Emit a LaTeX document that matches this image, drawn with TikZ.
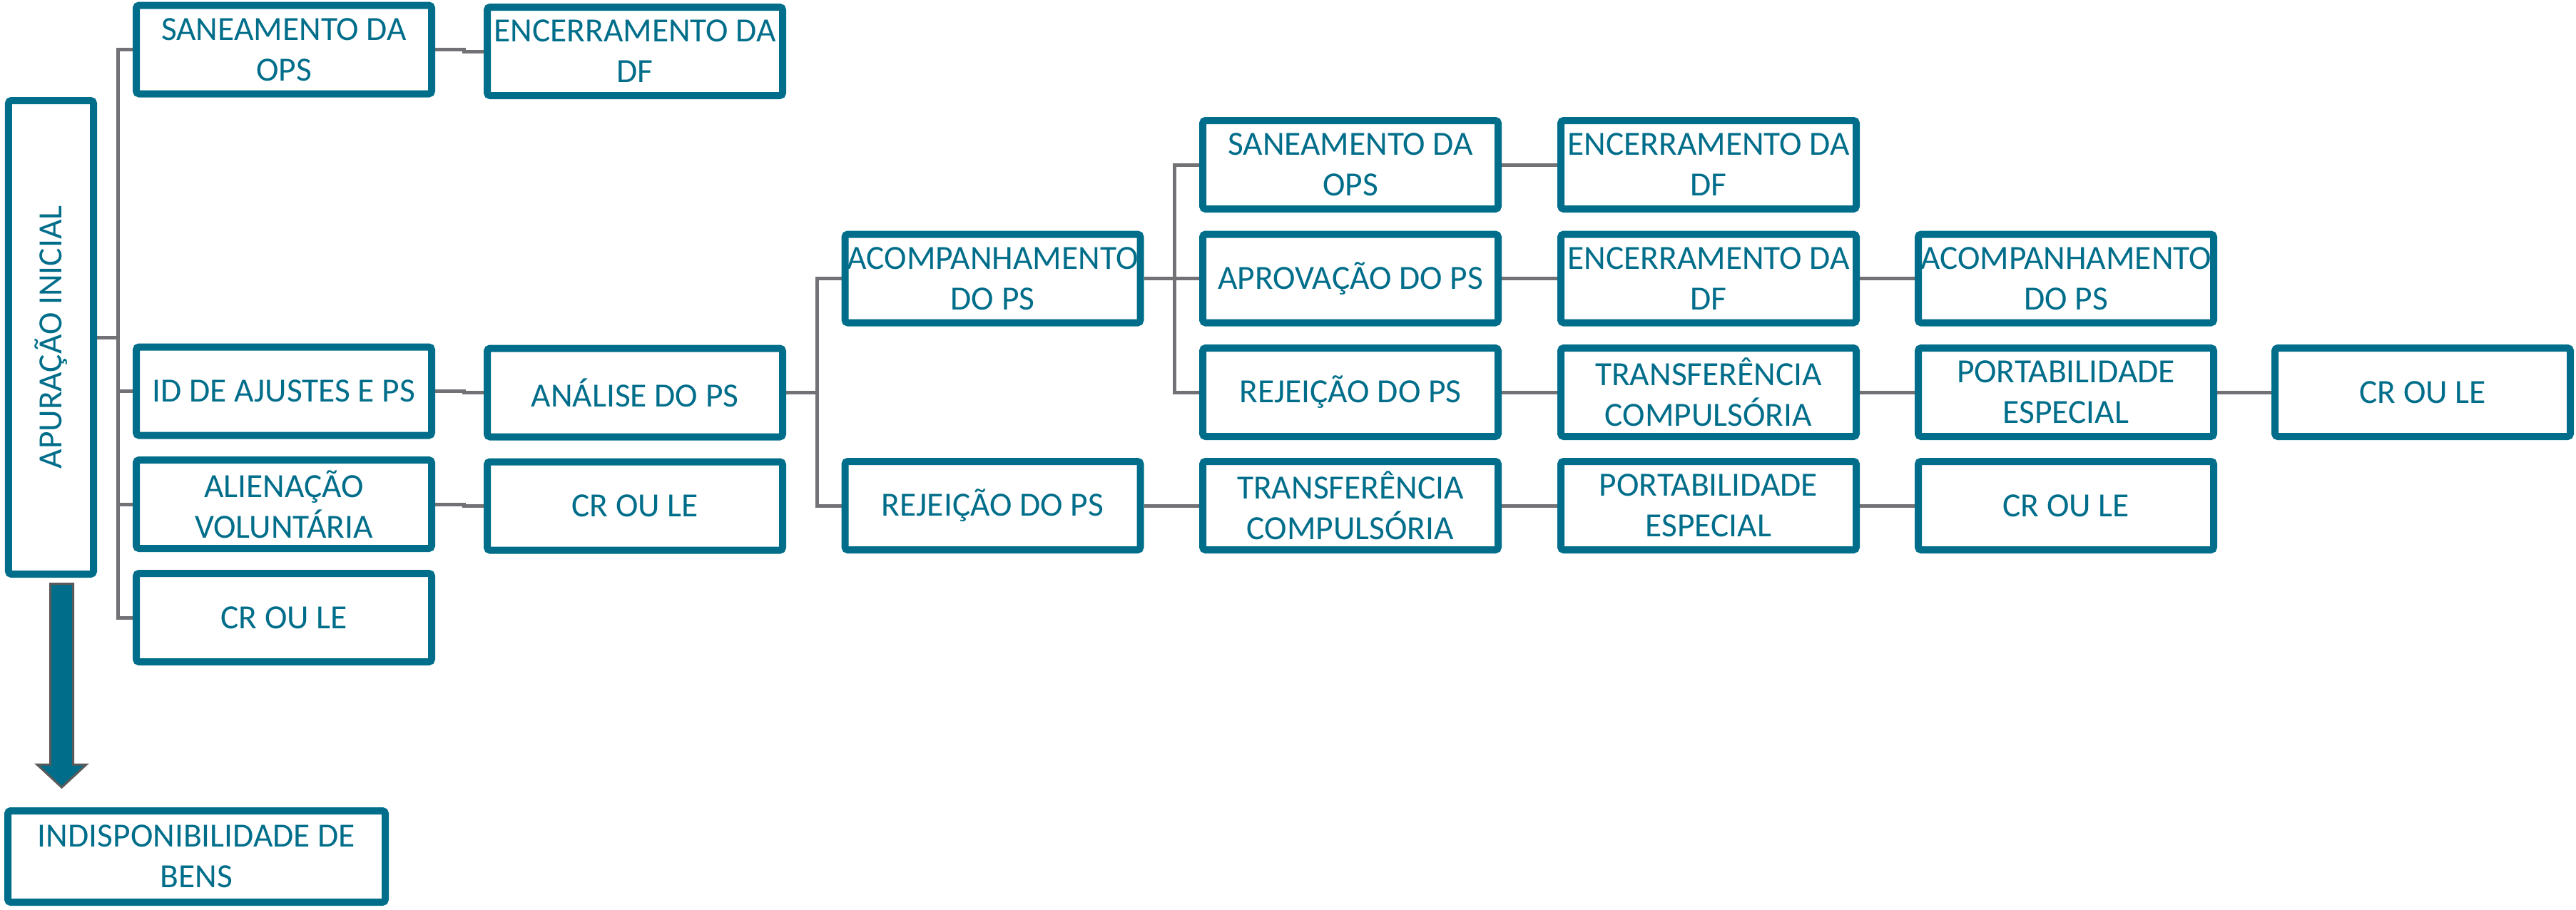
\documentclass[tikz,border=0pt]{standalone}
\usepackage{fontspec}
\setmainfont{Carlito}
\usepackage{graphicx}
\usetikzlibrary{backgrounds}
\definecolor{petroleo}{RGB}{0,110,138}
\definecolor{cinza}{RGB}{114,114,118}
\definecolor{cinzaesc}{RGB}{90,90,90}
\tikzset{
    etapa/.style={rectangle, draw=petroleo, fill=white, line width=0.1cm, rounded corners=0.4mm,
        minimum width=4.14cm, minimum height=1.24cm, inner sep=0pt, align=center,
        text=petroleo, font=\fontsize{13.5}{16.2}\selectfont},
    liga/.style={cinza, line width=0.05cm}
}
\begin{document}
\begin{tikzpicture}
    \useasboundingbox (0,0) rectangle (36.11,-12.75);
    \node[etapa, minimum width=1.19cm, minimum height=6.64cm] (AI) at (0.715, -4.73) {\rotatebox{90}{APURAÇÃO INICIAL}};
    \node[etapa, minimum width=5.29cm, minimum height=1.28cm] (IB) at (2.755, -12.01) {INDISPONIBILIDADE DE\\BENS};
    % primeira coluna
    \node[etapa] (SO1) at (3.98, -0.695) {SANEAMENTO DA\\OPS};
    \node[etapa] (IA) at (3.98, -5.485) {ID DE AJUSTES E PS};
    \node[etapa] (AV) at (3.98, -7.07) {ALIENAÇÃO\\VOLUNTÁRIA};
    \node[etapa] (CR1) at (3.98, -8.66) {CR OU LE};
    \node[etapa] (ED1) at (8.90, -0.72) {ENCERRAMENTO DA\\DF};
    \node[etapa] (AN) at (8.90, -5.505) {ANÁLISE DO PS};
    \node[etapa] (CR2) at (8.90, -7.095) {CR OU LE};
    % analise do PS
    \node[etapa] (AC1) at (13.915, -3.905) {ACOMPANHAMENTO\\DO PS};
    \node[etapa] (RJ1) at (13.915, -7.09) {REJEIÇÃO DO PS};
    \node[etapa] (SO2) at (18.93, -2.31) {SANEAMENTO DA\\OPS};
    \node[etapa] (APR) at (18.93, -3.905) {APROVAÇÃO DO PS};
    \node[etapa] (RJ2) at (18.93, -5.50) {REJEIÇÃO DO PS};
    \node[etapa] (TC1) at (18.93, -7.09) {TRANSFERÊNCIA\\COMPULSÓRIA};
    \node[etapa] (ED2) at (23.95, -2.31) {ENCERRAMENTO DA\\DF};
    \node[etapa] (ED3) at (23.95, -3.905) {ENCERRAMENTO DA\\DF};
    \node[etapa] (TC2) at (23.95, -5.50) {TRANSFERÊNCIA\\COMPULSÓRIA};
    \node[etapa] (PE1) at (23.95, -7.09) {PORTABILIDADE\\ESPECIAL};
    \node[etapa] (AC2) at (28.96, -3.905) {ACOMPANHAMENTO\\DO PS};
    \node[etapa] (PE2) at (28.96, -5.50) {PORTABILIDADE\\ESPECIAL};
    \node[etapa] (CR3) at (28.96, -7.09) {CR OU LE};
    \node[etapa] (CR4) at (33.96, -5.50) {CR OU LE};
    % seta para indisponibilidade
    \draw[cinzaesc, fill=petroleo, line width=0.03cm] (0.705, -8.185) -- (1.025, -8.185) -- (1.025, -10.72) -- (1.21, -10.72)
        -- (0.865, -11.04) -- (0.52, -10.72) -- (0.705, -10.72) -- cycle;
    \begin{scope}[on background layer]
        \draw[liga] (AI.east) -- ++(0.29, 0) |- (SO1.west);
        \draw[liga] (AI.east) -- ++(0.29, 0) |- (IA.west);
        \draw[liga] (AI.east) -- ++(0.29, 0) |- (AV.west);
        \draw[liga] (AI.east) -- ++(0.29, 0) |- (CR1.west);
        \draw[liga] (SO1.east) -- ++(0.40, 0) |- (ED1.west);
        \draw[liga] (IA.east) -- ++(0.40, 0) |- (AN.west);
        \draw[liga] (AV.east) -- ++(0.40, 0) |- (CR2.west);
        \draw[liga] (AN.east) -- ++(0.43, 0) |- (AC1.west);
        \draw[liga] (AN.east) -- ++(0.43, 0) |- (RJ1.west);
        \draw[liga] (AC1.east) -- ++(0.43, 0) |- (SO2.west);
        \draw[liga] (AC1.east) -- ++(0.43, 0) |- (APR.west);
        \draw[liga] (AC1.east) -- ++(0.43, 0) |- (RJ2.west);
        \draw[liga] (RJ1) -- (TC1);
        \draw[liga] (SO2) -- (ED2);
        \draw[liga] (APR) -- (ED3);
        \draw[liga] (ED3) -- (AC2);
        \draw[liga] (RJ2) -- (TC2);
        \draw[liga] (TC2) -- (PE2);
        \draw[liga] (PE2) -- (CR4);
        \draw[liga] (TC1) -- (PE1);
        \draw[liga] (PE1) -- (CR3);
    \end{scope}
\end{tikzpicture}
\end{document}
